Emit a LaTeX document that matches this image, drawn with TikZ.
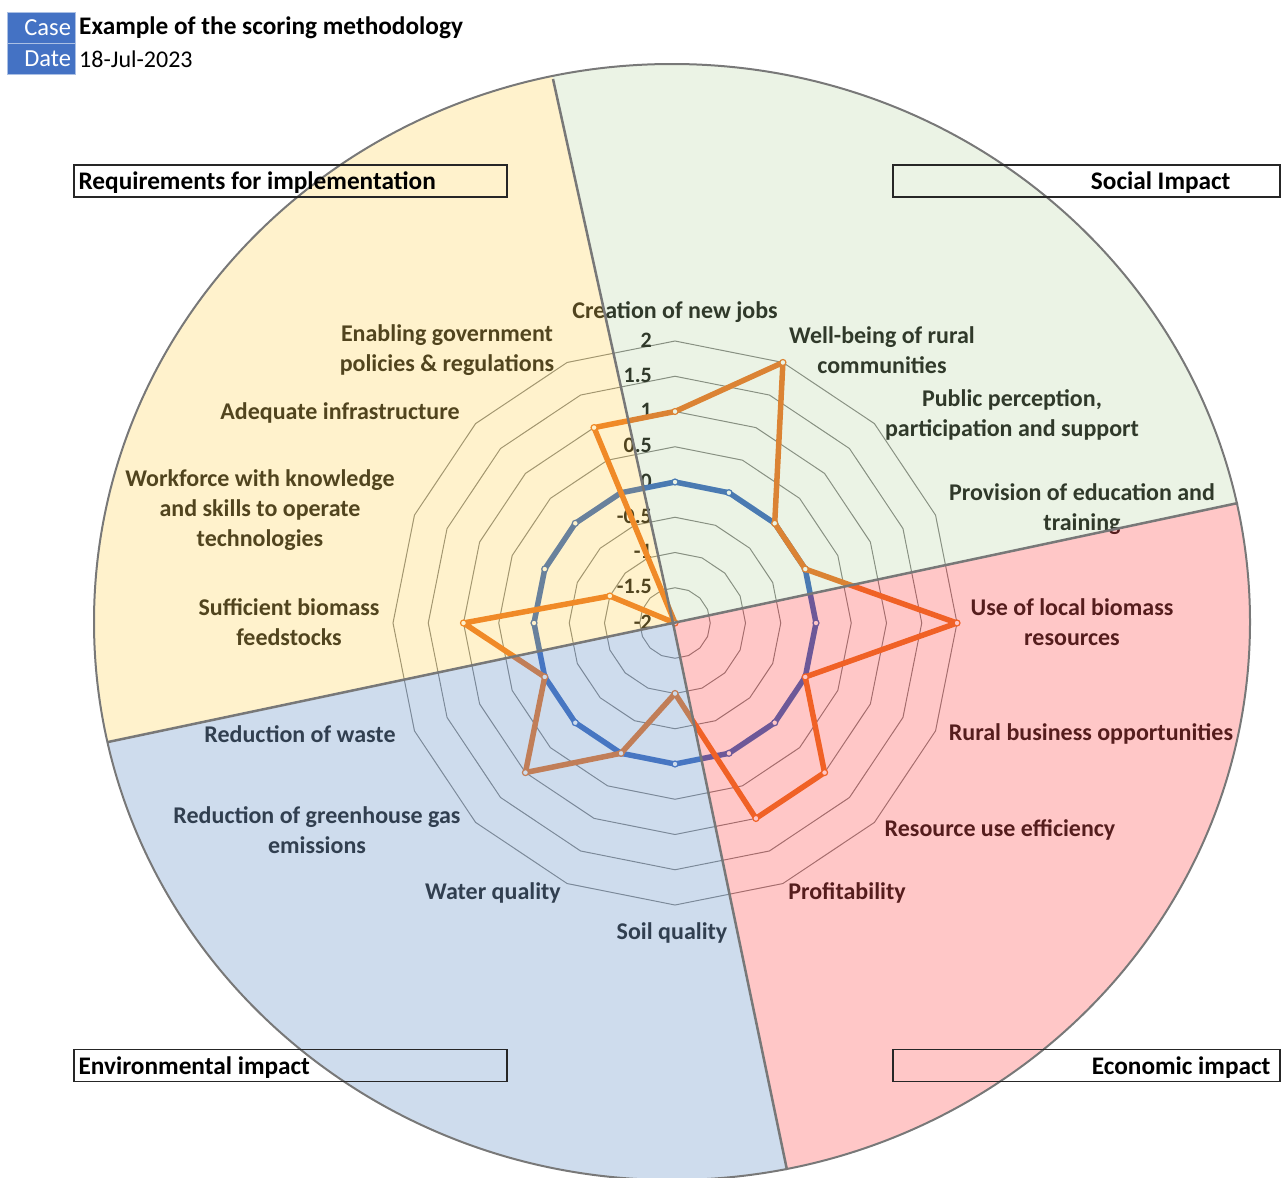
\documentclass[tikz,border=0pt]{standalone}
\usepackage{fontspec}
\setmainfont{Carlito}
\definecolor{excelblue}{RGB}{68,114,196}
\definecolor{excelorange}{RGB}{237,125,49}
\definecolor{tintyellow}{RGB}{255,192,0}
\definecolor{tintgreen}{RGB}{112,173,71}
\definecolor{tintred}{RGB}{255,0,0}
\definecolor{tintblue}{RGB}{80,130,190}
\definecolor{rimgray}{RGB}{120,120,120}
\tikzset{
  gridring/.style={draw=black!45, line width=1pt},
  series/.style={line width=5.5pt, line join=round},
  dot/.style={circle, draw=#1, fill=white, line width=1.2pt, inner sep=0pt, minimum size=6pt},
  catlabel/.style={font=\fontsize{24}{30}\selectfont\bfseries, text=black!85, align=center, inner sep=0pt},
  ticklabel/.style={font=\fontsize{22}{26}\selectfont\bfseries, text=black!85, anchor=east, inner sep=0pt},
  sectionbox/.style={draw=black!85, line width=1.3pt, minimum height=32pt, inner sep=0pt},
  boxtext/.style={font=\fontsize{25.3}{28}\selectfont\bfseries, inner sep=0pt},
  headbox/.style={fill=excelblue, draw=white!55!excelblue, line width=0.8pt, text=white, minimum height=31pt,
    text width=60pt, align=right, inner xsep=4pt, inner ysep=0pt, font=\fontsize{24.5}{28}\selectfont}
}
\begin{document}
\begin{tikzpicture}[x=1pt,y=-1pt]
  \useasboundingbox (0,0) rectangle (1283,1178);

  % radar chart, value v sits at radius (v+2)*70.5
  \begin{scope}[shift={(675,623)}]
    \foreach \l in {1,...,8}
      \draw[gridring] ({-90}:{\l*35.25}) \foreach \k in {1,...,15} {-- ({-90+22.5*\k}:{\l*35.25})} -- cycle;
    \foreach \t [count=\i from 0] in {-2,-1.5,-1,-0.5,0,0.5,1,1.5,2}
      \node[ticklabel] (tick\i) at (-23,{-\i*35.25-1}) {\t};
    % series 1
    \foreach \k in {0,...,15}
      \coordinate (b\k) at ({-90+22.5*\k}:141);
    \draw[series, excelblue] (b0) \foreach \k in {1,...,15} {-- (b\k)} -- cycle;
    \foreach \k in {0,...,15}
      \node[dot=excelblue] (bm\k) at (b\k) {};
    % series 2
    \foreach \v [count=\k from 0] in {1,2,0,0,2,0,1,1,-1,0,1,0,1,-1,-2,1}
      \coordinate (o\k) at ({-90+22.5*\k}:{(\v+2)*70.5});
    \draw[series, excelorange] (o0) \foreach \k in {1,...,15} {-- (o\k)} -- cycle;
    \foreach \k in {0,...,15}
      \node[dot=excelorange] (om\k) at (o\k) {};
  \end{scope}

  \node[catlabel] (jobs) at (675,312) {Creation of new jobs};
  \node[catlabel] (wellbeing) at (882,350) {Well-being of rural\\communities};
  \node[catlabel] (public) at (1012,415) {Public perception,\\participation and support};
  \node[catlabel] (education) at (1082,509) {Provision of education and\\training};
  \node[catlabel] (localbio) at (1072,622) {Use of local biomass\\resources};
  \node[catlabel] (business) at (1091,734) {Rural business opportunities};
  \node[catlabel] (efficiency) at (1000,830) {Resource use efficiency};
  \node[catlabel] (profit) at (847,893) {Profitability};
  \node[catlabel] (soil) at (672,933) {Soil quality};
  \node[catlabel] (water) at (493,893) {Water quality};
  \node[catlabel] (ghg) at (317,830) {Reduction of greenhouse gas\\emissions};
  \node[catlabel] (waste) at (300,734) {Reduction of waste};
  \node[catlabel] (feedstock) at (289,622) {Sufficient biomass\\feedstocks};
  \node[catlabel] (workforce) at (260,510) {Workforce with knowledge\\and skills to operate\\technologies};
  \node[catlabel] (infra) at (340,413) {Adequate infrastructure};
  \node[catlabel] (policy) at (447,350) {Enabling government\\policies \& regulations};

  % coloured quarters over the chart
  \coordinate (hub) at (673,623);
  \coordinate (rimN) at (553,79);
  \coordinate (rimE) at (1238,503);
  \coordinate (rimS) at (787,1170);
  \coordinate (rimW) at (108,742);
  \begin{scope}
    \clip (672,622) ellipse [x radius=578pt, y radius=558pt];
    \fill[tintgreen, fill opacity=0.14] (hub) -- (433,-465) -- (1803,-465) -- (1803,383) -- cycle;
    \fill[tintred, fill opacity=0.22] (hub) -- (1803,383) -- (1803,1717) -- (901,1717) -- cycle;
    \fill[tintblue, fill opacity=0.28] (hub) -- (901,1717) -- (-457,1717) -- (-457,861) -- cycle;
    \fill[tintyellow, fill opacity=0.2] (hub) -- (-457,861) -- (-457,-465) -- (433,-465) -- cycle;
  \end{scope}
  \draw[rimgray, line width=2pt] (672,622) ellipse [x radius=578pt, y radius=558pt];
  \draw[rimgray, line width=2.5pt] (hub) -- (rimN) (hub) -- (rimE) (hub) -- (rimS) (hub) -- (rimW);

  % quarter titles
  \node[sectionbox, minimum width=433pt] (reqbox) at (290.5,181) {};
  \node[boxtext, anchor=west] (reqtext) at ([xshift=5pt,yshift=-2pt]reqbox.west) {Requirements for implementation};
  \node[sectionbox, minimum width=387pt] (socbox) at (1086.5,181) {};
  \node[boxtext, anchor=east] (soctext) at ([xshift=-50pt,yshift=-2pt]socbox.east) {Social Impact};
  \node[sectionbox, minimum width=433pt] (envbox) at (290.5,1065.5) {};
  \node[boxtext, anchor=west] (envtext) at ([xshift=5pt,yshift=-2pt]envbox.west) {Environmental impact};
  \node[sectionbox, minimum width=387pt] (ecobox) at (1086.5,1065.5) {};
  \node[boxtext, anchor=east] (ecotext) at ([xshift=-10pt,yshift=-2pt]ecobox.east) {Economic impact};

  % header
  \node[headbox] (casekey) at (41,27.5) {Case};
  \node[headbox] (datekey) at (41,58.5) {Date};
  \node[boxtext, anchor=west] (casetitle) at (79,28) {Example of the scoring methodology};
  \node[boxtext, anchor=west, font=\fontsize{24}{28}\selectfont] (datetext) at (79,59) {18-Jul-2023};
\end{tikzpicture}
\end{document}
